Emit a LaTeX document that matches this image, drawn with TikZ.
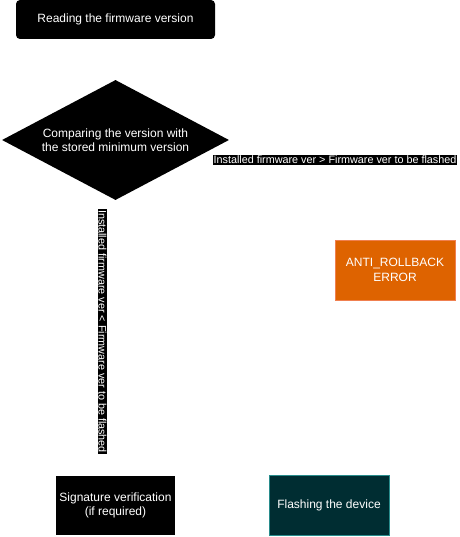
\documentclass[tikz,border=0pt]{standalone}
\usepackage{fontspec}
\setmainfont{Liberation Sans}
\usetikzlibrary{shapes.geometric}
\definecolor{orfill}{RGB}{222,99,0}
\definecolor{ordraw}{RGB}{240,128,80}
\definecolor{tealfill}{RGB}{0,45,50}
\definecolor{tealdraw}{RGB}{40,140,140}
\tikzset{
  txt/.style={text=white, font=\fontsize{12}{14.5}\selectfont, align=center, inner sep=0pt},
  lbl/.style={fill=black, text=white, font=\fontsize{10.8}{13}\selectfont, inner sep=0.8pt},
}
\begin{document}
\begin{tikzpicture}[x=1pt,y=-1pt]
\useasboundingbox (0,0) rectangle (459,537);
% top rounded box
\node[txt, fill=black, rounded corners=4pt, minimum width=199pt, minimum height=39pt] (read) at (115.5,19.5) {Reading the firmware version};
% diamond
\node[txt, fill=black, diamond, aspect=1.89, minimum width=227pt, minimum height=120pt, inner sep=0pt] (cmp) at (115.5,140) {Comparing the version with\\the stored minimum version};
% labels
\node[lbl] (lgt) at (335,160) {Installed firmware ver > Firmware ver to be flashed};
\node[lbl, rotate=-90] (llt) at (102.5,331.5) {Installed firmware ver < Firmware ver to be flashed};
% error box
\node[txt, fill=orfill, draw=ordraw, minimum width=120pt, minimum height=60pt] (err) at (395,270) {ANTI\_ROLLBACK\\ERROR};
% signature
\node[txt, fill=black, minimum width=119pt, minimum height=59pt] (sig) at (115.5,505.5) {Signature verification\\(if required)};
% flashing
\node[txt, fill=tealfill, draw=tealdraw, minimum width=120pt, minimum height=60pt] (flash) at (329,505) {Flashing the device};
\end{tikzpicture}
\end{document}
